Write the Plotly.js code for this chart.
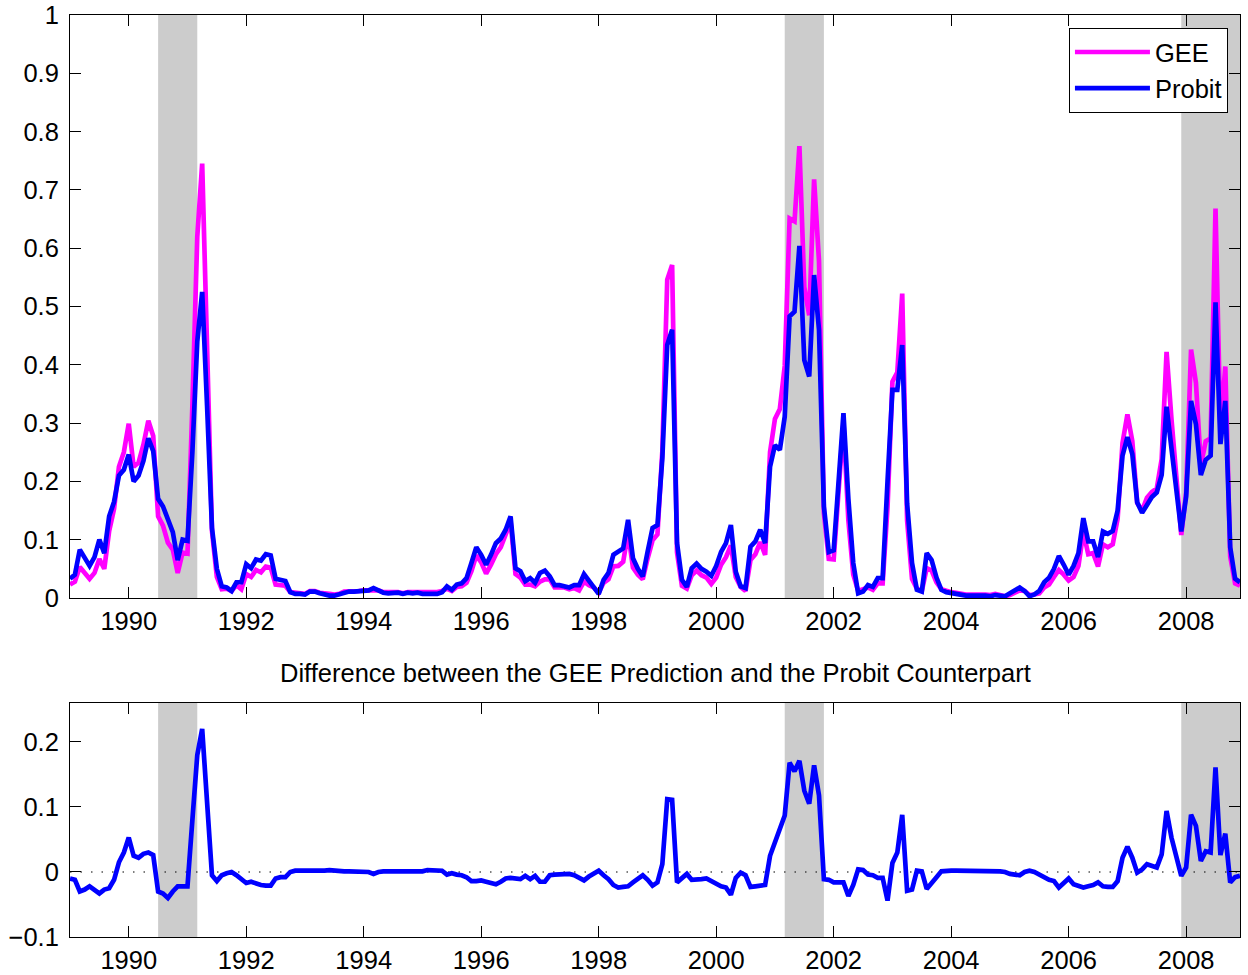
<!DOCTYPE html>
<html>
<head>
<meta charset="utf-8">
<script src="https://cdn.plot.ly/plotly-3.0.1.min.js"></script>
<style>html,body{margin:0;padding:0;background:#fff;}#chart{width:1248px;height:975px;}</style>
</head>
<body>
<div id="chart"></div>
<script>
// Monthly series, Jan 1989 .. Dec 2008
const startYear = 1989;
const probit = [
0.033,0.040,0.083,0.070,0.055,0.070,0.100,0.077,0.140,0.165,0.210,0.220,
0.246,0.200,0.210,0.235,0.274,0.252,0.170,0.157,0.135,0.113,0.065,0.100,
0.098,0.250,0.440,0.525,0.330,0.120,0.050,0.020,0.018,0.012,0.027,0.027,
0.058,0.051,0.066,0.064,0.075,0.073,0.033,0.031,0.029,0.010,0.007,0.007,
0.006,0.011,0.011,0.008,0.005,0.004,0.004,0.006,0.010,0.011,0.011,0.011,
0.012,0.013,0.017,0.013,0.009,0.008,0.009,0.009,0.007,0.009,0.008,0.009,
0.007,0.007,0.007,0.007,0.010,0.020,0.014,0.023,0.025,0.034,0.060,0.087,
0.074,0.057,0.074,0.094,0.102,0.117,0.140,0.051,0.046,0.029,0.034,0.026,
0.043,0.047,0.037,0.022,0.022,0.021,0.018,0.022,0.022,0.041,0.029,0.020,
0.007,0.031,0.043,0.074,0.079,0.085,0.134,0.068,0.050,0.037,0.080,0.120,
0.125,0.240,0.434,0.460,0.094,0.031,0.019,0.051,0.059,0.050,0.045,0.038,
0.055,0.079,0.094,0.125,0.045,0.020,0.017,0.088,0.097,0.117,0.094,0.225,
0.262,0.254,0.311,0.483,0.491,0.604,0.408,0.380,0.554,0.460,0.157,0.079,
0.082,0.200,0.317,0.170,0.060,0.008,0.011,0.022,0.019,0.034,0.034,0.200,
0.357,0.357,0.434,0.162,0.060,0.014,0.011,0.077,0.065,0.035,0.014,0.010,
0.008,0.007,0.005,0.004,0.004,0.003,0.004,0.004,0.003,0.005,0.004,0.003,
0.008,0.013,0.018,0.012,0.003,0.006,0.012,0.027,0.035,0.050,0.072,0.057,
0.040,0.055,0.077,0.137,0.097,0.097,0.070,0.114,0.110,0.115,0.150,0.244,
0.276,0.247,0.164,0.146,0.160,0.173,0.181,0.211,0.328,0.254,0.184,0.114,
0.174,0.338,0.298,0.211,0.237,0.244,0.507,0.264,0.338,0.087,0.033,0.027
];
const gee = [
0.023,0.028,0.053,0.043,0.033,0.043,0.067,0.050,0.115,0.153,0.225,0.250,
0.299,0.225,0.232,0.263,0.304,0.278,0.140,0.124,0.095,0.083,0.043,0.078,
0.076,0.330,0.620,0.745,0.430,0.115,0.036,0.015,0.016,0.012,0.022,0.015,
0.041,0.036,0.048,0.044,0.054,0.052,0.023,0.023,0.021,0.010,0.009,0.009,
0.007,0.012,0.012,0.009,0.007,0.007,0.006,0.007,0.011,0.012,0.012,0.012,
0.013,0.013,0.014,0.013,0.010,0.009,0.010,0.010,0.008,0.010,0.010,0.010,
0.008,0.010,0.010,0.010,0.012,0.016,0.012,0.019,0.020,0.026,0.046,0.073,
0.061,0.042,0.057,0.075,0.087,0.107,0.131,0.041,0.035,0.023,0.023,0.020,
0.028,0.032,0.032,0.018,0.018,0.018,0.015,0.017,0.013,0.028,0.022,0.018,
0.009,0.026,0.032,0.054,0.055,0.062,0.112,0.052,0.040,0.032,0.068,0.099,
0.109,0.252,0.546,0.571,0.078,0.021,0.016,0.039,0.047,0.039,0.035,0.024,
0.035,0.057,0.070,0.090,0.036,0.019,0.012,0.065,0.075,0.096,0.074,0.250,
0.307,0.324,0.398,0.651,0.646,0.775,0.533,0.485,0.718,0.578,0.146,0.067,
0.066,0.184,0.301,0.133,0.040,0.012,0.014,0.018,0.014,0.025,0.025,0.156,
0.371,0.387,0.522,0.133,0.033,0.016,0.012,0.051,0.047,0.027,0.015,0.012,
0.010,0.009,0.007,0.006,0.006,0.005,0.006,0.006,0.005,0.007,0.005,0.003,
0.005,0.009,0.013,0.012,0.005,0.006,0.008,0.018,0.023,0.036,0.048,0.040,
0.030,0.036,0.055,0.113,0.075,0.077,0.054,0.092,0.087,0.092,0.136,0.266,
0.315,0.269,0.163,0.150,0.172,0.182,0.188,0.238,0.422,0.307,0.204,0.108,
0.181,0.426,0.369,0.228,0.269,0.274,0.668,0.290,0.397,0.071,0.025,0.021
];
const difference = [
-0.010,-0.012,-0.030,-0.027,-0.022,-0.027,-0.033,-0.027,-0.025,-0.012,0.015,0.030,
0.053,0.025,0.022,0.028,0.030,0.026,-0.030,-0.033,-0.040,-0.030,-0.022,-0.022,
-0.022,0.080,0.180,0.220,0.100,-0.005,-0.014,-0.005,-0.002,0.000,-0.005,-0.012,
-0.017,-0.015,-0.018,-0.020,-0.021,-0.021,-0.010,-0.008,-0.008,0.000,0.002,0.002,
0.001,0.001,0.001,0.001,0.002,0.003,0.002,0.001,0.001,0.001,0.001,0.001,
0.001,0.000,-0.003,0.000,0.001,0.001,0.001,0.001,0.001,0.001,0.002,0.001,
0.001,0.003,0.003,0.003,0.002,-0.004,-0.002,-0.004,-0.005,-0.008,-0.014,-0.014,
-0.013,-0.015,-0.017,-0.019,-0.015,-0.010,-0.009,-0.010,-0.011,-0.006,-0.011,-0.006,
-0.015,-0.015,-0.005,-0.004,-0.004,-0.003,-0.003,-0.005,-0.009,-0.013,-0.007,-0.002,
0.002,-0.005,-0.011,-0.020,-0.024,-0.023,-0.022,-0.016,-0.010,-0.005,-0.012,-0.021,
-0.016,0.012,0.112,0.111,-0.016,-0.010,-0.003,-0.012,-0.012,-0.011,-0.010,-0.014,
-0.020,-0.022,-0.024,-0.035,-0.009,-0.001,-0.005,-0.023,-0.022,-0.021,-0.020,0.025,
0.045,0.070,0.087,0.168,0.155,0.171,0.125,0.105,0.164,0.118,-0.011,-0.012,
-0.016,-0.016,-0.016,-0.037,-0.020,0.004,0.003,-0.004,-0.005,-0.009,-0.009,-0.044,
0.014,0.030,0.088,-0.029,-0.027,0.002,0.001,-0.026,-0.018,-0.008,0.001,0.002,
0.002,0.002,0.002,0.002,0.002,0.002,0.002,0.002,0.002,0.002,0.001,0.000,
-0.003,-0.004,-0.005,0.000,0.002,0.000,-0.004,-0.009,-0.012,-0.014,-0.024,-0.017,
-0.010,-0.019,-0.022,-0.024,-0.022,-0.020,-0.016,-0.022,-0.023,-0.023,-0.014,0.022,
0.039,0.022,-0.001,0.004,0.012,0.009,0.007,0.027,0.094,0.053,0.020,-0.006,
0.007,0.088,0.071,0.017,0.032,0.030,0.161,0.026,0.059,-0.016,-0.008,-0.006
];
// NBER recessions (decimal years)
const recessions = [[1990.5, 1991.1667], [2001.1667, 2001.8333], [2007.9167, 2008.9167]];
const xTickYears = [1990, 1992, 1994, 1996, 1998, 2000, 2002, 2004, 2006, 2008];
const topTicks = [0, 0.1, 0.2, 0.3, 0.4, 0.5, 0.6, 0.7, 0.8, 0.9, 1];
const bottomTicks = [-0.1, 0, 0.1, 0.2];
const seriesNames = ['GEE', 'Probit'];
const subtitle = 'Difference between the GEE Prediction and the Probit Counterpart';

const months = probit.map((_, i) => startYear + i / 12);
const xRange = [startYear, months[months.length - 1]];

const FONT = 'Liberation Sans, Arial, Helvetica, sans-serif';
const fs = 25.5;

const traces = [
  {x: months, y: gee, name: seriesNames[0], type: 'scatter', mode: 'lines',
   line: {color: '#ff00ff', width: 4.7}, xaxis: 'x', yaxis: 'y'},
  {x: months, y: probit, name: seriesNames[1], type: 'scatter', mode: 'lines',
   line: {color: '#0000ff', width: 4.7}, xaxis: 'x', yaxis: 'y'},
  {x: months, y: difference, name: 'Difference', showlegend: false, type: 'scatter', mode: 'lines',
   line: {color: '#0000ff', width: 4.7}, xaxis: 'x2', yaxis: 'y2'}
];

const shapes = [];
recessions.forEach(r => {
  shapes.push({type: 'rect', xref: 'x', yref: 'y domain', x0: r[0], x1: r[1], y0: 0, y1: 1,
    fillcolor: '#cccccc', line: {width: 0}, layer: 'below'});
  shapes.push({type: 'rect', xref: 'x2', yref: 'y2 domain', x0: r[0], x1: r[1], y0: 0, y1: 1,
    fillcolor: '#cccccc', line: {width: 0}, layer: 'below'});
});
shapes.push({type: 'line', xref: 'x2 domain', yref: 'y2', x0: 0, x1: 1, y0: 0, y1: 0,
  line: {color: '#000', width: 1.2, dash: '1.5px,9px'}, layer: 'below'});

const xCommon = {
  range: xRange, tickmode: 'array', tickvals: xTickYears, ticktext: xTickYears.map(String),
  ticks: 'inside', ticklen: 11, tickwidth: 1, tickcolor: '#000',
  showline: true, linecolor: '#000', linewidth: 1, mirror: 'ticks',
  showgrid: false, zeroline: false, tickfont: {family: FONT, size: fs, color: '#000'},
  ticklabelstandoff: 0
};
const yCommon = {
  ticks: 'inside', ticklen: 11, tickwidth: 1, tickcolor: '#000',
  showline: true, linecolor: '#000', linewidth: 1, mirror: 'ticks',
  showgrid: false, zeroline: false, tickfont: {family: FONT, size: fs, color: '#000'},
  ticklabelstandoff: 5, tickmode: 'array'
};

const layout = {
  width: 1248, height: 975,
  margin: {l: 70, r: 8, t: 15, b: 38, pad: 0},
  paper_bgcolor: '#fff', plot_bgcolor: '#fff',
  font: {family: FONT, size: fs, color: '#000'},
  xaxis: Object.assign({}, xCommon, {anchor: 'y', domain: [0, 1]}),
  yaxis: Object.assign({}, yCommon, {anchor: 'x', domain: [0.3677, 1], range: [0, 1],
    tickvals: topTicks, ticktext: topTicks.map(String)}),
  xaxis2: Object.assign({}, xCommon, {anchor: 'y2', domain: [0, 1]}),
  yaxis2: Object.assign({}, yCommon, {anchor: 'x2', domain: [0, 0.2538], range: [-0.1, 0.26],
    tickvals: bottomTicks, ticktext: bottomTicks.map(v => v < 0 ? '\u2212' + String(-v) : String(v))}),
  shapes: shapes,
  showlegend: true,
  legend: {x: 0.9897, y: 0.986, xanchor: 'right', yanchor: 'top', bgcolor: '#fff',
    bordercolor: '#000', borderwidth: 1, font: {family: FONT, size: fs, color: '#000'},
    itemwidth: 75, tracegroupgap: 0},
  annotations: [{text: subtitle, xref: 'paper', yref: 'paper', x: 0.5, y: 0.2863,
    xanchor: 'center', yanchor: 'middle', showarrow: false,
    font: {family: FONT, size: fs, color: '#000'}}]
};

Plotly.newPlot('chart', traces, layout, {staticPlot: true, displayModeBar: false});
</script>
</body>
</html>
